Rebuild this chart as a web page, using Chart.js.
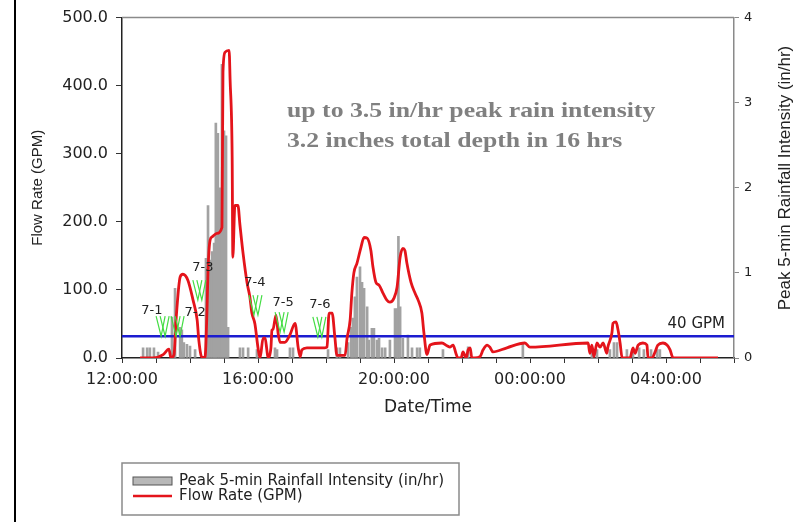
<!DOCTYPE html>
<html>
<head>
<meta charset="utf-8">
<script src="https://cdn.jsdelivr.net/npm/chart.js@4/dist/chart.umd.min.js"></script>
<style>
  body { margin: 0; background: #fff; }
  canvas { display: block; }
</style>
</head>
<body>
<canvas id="flow" width="803" height="522"></canvas>
<script>
// hours after 12:00 on the storm day
let rainHours = [
  0.62, 0.74, 0.82, 0.94, 1.06, 1.47, 1.56, 1.71, 1.76, 1.82, 1.91, 2.0, 2.15,
  2.47, 2.53, 2.59, 2.65, 2.71, 2.76, 2.82, 2.88, 2.94, 3.0, 3.06, 3.12,
  3.47, 3.56, 3.71, 3.97, 4.5, 4.56, 4.94, 5.03, 6.06,
  6.32, 6.41, 6.65, 6.74, 6.79, 6.85, 6.91, 7.0, 7.06, 7.12, 7.21, 7.26, 7.35,
  7.41, 7.5, 7.56, 7.65, 7.74, 7.88, 8.03, 8.09, 8.13, 8.18, 8.26, 8.41, 8.53,
  8.68, 8.76, 9.44, 10.18, 11.79, 13.82, 13.97, 14.35, 14.47, 14.56, 14.85,
  15.03, 15.21, 15.35, 15.56, 15.74, 15.82,
];
let rainValues = [
  0.12, 0.12, 0.12, 0.12, 0.07, 0.48, 0.82, 0.36, 0.33, 0.18, 0.16, 0.14, 0.1,
  1.17, 1.79, 1.15, 1.25, 1.35, 2.76, 2.64, 2.0, 3.45, 2.67, 2.61, 0.36,
  0.12, 0.12, 0.12, 0.1, 0.12, 0.1, 0.12, 0.12, 0.1,
  0.12, 0.12, 0.18, 0.36, 0.47, 0.72, 0.95, 1.07, 0.89, 0.82, 0.6, 0.21, 0.35,
  0.35, 0.21, 0.23, 0.12, 0.12, 0.21, 0.58, 0.58, 1.43, 0.6, 0.23, 0.27, 0.12,
  0.12, 0.12, 0.1, 0.13, 0.18, 0.1, 0.1, 0.1, 0.18, 0.18, 0.1,
  0.1, 0.12, 0.1, 0.1, 0.1, 0.1,
];

let flowHours = [
  0.53, 0.91, 1.21, 1.38, 1.44, 1.53, 1.59, 1.71, 1.79, 1.94, 2.09, 2.21, 2.26,
  2.35, 2.44, 2.5, 2.53, 2.59, 2.65, 2.79, 2.94, 2.97, 3.03, 3.15, 3.18, 3.24,
  3.26, 3.32, 3.41, 3.47, 3.56, 3.68, 3.76, 3.82, 3.91, 4.0, 4.06, 4.15, 4.21,
  4.26, 4.29, 4.38, 4.41, 4.44, 4.53, 4.59, 4.65, 4.79, 4.94, 5.09, 5.18, 5.24,
  5.29, 5.44, 5.97, 6.03, 6.09, 6.18, 6.26, 6.32, 6.56, 6.62, 6.71, 6.76, 6.82,
  6.91, 7.03, 7.12, 7.21, 7.32, 7.38, 7.47, 7.56, 7.68, 7.79, 7.88, 8.0, 8.09,
  8.18, 8.26, 8.32, 8.38, 8.5, 8.62, 8.71, 8.82, 8.88, 8.97, 9.06, 9.41, 9.56,
  9.65, 9.74, 9.82, 9.88, 9.97, 10.03, 10.12, 10.18, 10.24, 10.29, 10.38, 10.53,
  10.62, 10.74, 10.82, 10.91, 11.32, 11.85, 12.0, 13.71, 13.76, 13.82, 13.88,
  13.97, 14.06, 14.15, 14.26, 14.29, 14.41, 14.44, 14.53, 14.59, 14.65, 14.71,
  14.94, 15.03, 15.09, 15.18, 15.32, 15.44, 15.47, 15.59, 15.68, 15.76, 15.91,
  16.03, 16.12, 16.21, 17.53,
];
let flowValues = [
  0, 0, 5, 13, 0, 5, 56, 119, 123, 114, 85, 56, 26,
  1, 1, 70, 129, 173, 178, 183, 192, 420, 449, 452, 408, 295,
  148, 224, 224, 195, 154, 110, 90, 66, 50, 15, 0, 29, 29,
  12, 1, 15, 41, 42, 63, 37, 23, 23, 34, 51, 16, 2,
  12, 15, 15, 16, 66, 66, 31, 4, 4, 29, 56, 95, 125,
  139, 163, 177, 176, 158, 134, 111, 107, 95, 85, 82, 88, 104,
  148, 161, 158, 139, 111, 95, 85, 66, 37, 5, 19, 22, 18,
  16, 19, 7, 0, 0, 9, 0, 12, 15, 0, 0, 2,
  12, 19, 16, 9, 15, 22, 16, 22, 7, 19, 2,
  22, 16, 22, 7, 16, 37, 51, 53, 41, 22, 0,
  0, 15, 7, 19, 22, 19, 0, 0, 9, 19, 22,
  19, 12, 0, 0,
];

let thresholdFlow = 32;
let thresholdLabel = "40 GPM";

let markerNames = ["7-1", "7-2", "7-3", "7-4", "7-5", "7-6"];
let markerHours = [1.18, 1.62, 2.26, 3.91, 4.68, 5.79];
let markerFlows = [32, 32, 85, 63, 38, 31];
let markerTextHours = [0.88, 2.15, 2.38, 3.91, 4.74, 5.82];
let markerTextFlows = [69, 67, 133, 110, 82, 78];

let noteLines = [
  "up to 3.5 in/hr peak rain intensity",
  "3.2 inches total depth in 16 hrs",
];

function hourLabel(v) {
  if (v % 4 !== 0) return "";
  let hh = (12 + v) % 24;
  return (hh < 10 ? "0" : "") + hh + ":00:00";
}

const extras = {
  id: "extras",
  afterDraw(chart) {
    const { ctx, chartArea: a } = chart;
    const x = chart.scales.x;
    const y = chart.scales.y;
    ctx.save();

    // frame line on the left of the slide
    ctx.fillStyle = "#000";
    ctx.fillRect(14, 0, 2, chart.height);

    // top border of plot
    ctx.strokeStyle = "#8a8a8a";
    ctx.lineWidth = 1.5;
    ctx.beginPath();
    ctx.moveTo(a.left, a.top);
    ctx.lineTo(a.right, a.top);
    ctx.stroke();

    // threshold label
    ctx.fillStyle = "#222";
    ctx.font = "15px 'DejaVu Sans'";
    ctx.textAlign = "right";
    ctx.textBaseline = "alphabetic";
    ctx.fillText(thresholdLabel, a.right - 9, y.getPixelForValue(thresholdFlow) - 8);

    // sampling markers
    for (let i = 0; i < markerNames.length; i++) {
      let tx = x.getPixelForValue(markerHours[i]);
      let ty = y.getPixelForValue(markerFlows[i]);
      ctx.strokeStyle = "#44dd44";
      ctx.lineWidth = 1.2;
      for (let k = 0; k < 2; k++) {
        let o = k * 4;
        ctx.beginPath();
        ctx.moveTo(tx - 6 + o, ty - 20);
        ctx.lineTo(tx - 1 + o, ty);
        ctx.lineTo(tx + 3 + o, ty - 20);
        ctx.stroke();
      }
      ctx.fillStyle = "#222";
      ctx.font = "13px 'DejaVu Sans'";
      ctx.textAlign = "center";
      ctx.textBaseline = "middle";
      ctx.fillText(
        markerNames[i],
        x.getPixelForValue(markerTextHours[i]),
        y.getPixelForValue(markerTextFlows[i])
      );
    }

    // note text
    ctx.fillStyle = "#808080";
    ctx.font = "bold 22px 'Liberation Serif'";
    ctx.textAlign = "left";
    ctx.textBaseline = "alphabetic";
    noteLines.forEach((t, i) => {
      ctx.save();
      ctx.translate(a.left + 165, a.top + 99 + i * 30);
      ctx.scale(1.17, 1);
      ctx.fillText(t, 0, 0);
      ctx.restore();
    });

    // right axis title (reads bottom to top)
    ctx.save();
    ctx.translate(785, 178);
    ctx.rotate(-Math.PI / 2);
    ctx.fillStyle = "#222";
    ctx.font = "17px 'Liberation Sans'";
    ctx.textAlign = "center";
    ctx.textBaseline = "middle";
    ctx.fillText("Peak 5-min Rainfall Intensity (in/hr)", 0, 0);
    ctx.restore();

    // legend box
    const ds = chart.data.datasets;
    ctx.strokeStyle = "#8a8a8a";
    ctx.lineWidth = 1.5;
    ctx.strokeRect(122, 463, 337, 52);
    ctx.fillStyle = "#b8b8b8";
    ctx.fillRect(133, 477, 39, 8);
    ctx.strokeStyle = "#555";
    ctx.lineWidth = 1;
    ctx.strokeRect(133, 477, 39, 8);
    ctx.strokeStyle = ds[0].borderColor;
    ctx.lineWidth = 2.5;
    ctx.beginPath();
    ctx.moveTo(133, 496);
    ctx.lineTo(172, 496);
    ctx.stroke();
    ctx.fillStyle = "#222";
    ctx.font = "15px 'DejaVu Sans'";
    ctx.textAlign = "left";
    ctx.textBaseline = "middle";
    ctx.fillText(ds[2].label, 179, 481);
    ctx.fillText(ds[0].label, 179, 496);

    ctx.restore();
  },
};

new Chart("flow", {
  type: "bar",
  data: {
    datasets: [
      {
        type: "line",
        label: "Flow Rate (GPM)",
        data: flowHours.map((h, i) => ({ x: h, y: flowValues[i] })),
        borderColor: "#e4141b",
        borderWidth: 2.8,
        pointRadius: 0,
        cubicInterpolationMode: "monotone",
        yAxisID: "y",
        order: 1,
      },
      {
        type: "line",
        label: thresholdLabel,
        data: [{ x: 0, y: thresholdFlow }, { x: 18, y: thresholdFlow }],
        borderColor: "#1c1cd0",
        borderWidth: 2.5,
        pointRadius: 0,
        yAxisID: "y",
        order: 2,
      },
      {
        type: "bar",
        label: "Peak 5-min Rainfall Intensity (in/hr)",
        data: rainHours.map((h, i) => ({ x: h, y: rainValues[i] })),
        backgroundColor: "#a2a2a2",
        barThickness: 2,
        yAxisID: "y1",
        order: 3,
      },
    ],
  },
  options: {
    responsive: false,
    animation: false,
    layout: { padding: { top: 17, left: 0, right: 0, bottom: 0 } },
    plugins: {
      legend: { display: false },
      tooltip: { enabled: false },
    },
    scales: {
      x: {
        type: "linear",
        min: 0,
        max: 18,
        offset: false,
        grid: { drawOnChartArea: false, offset: false, tickLength: 5, color: "#333" },
        border: { color: "#222", width: 1.5 },
        ticks: {
          stepSize: 1,
          autoSkip: false,
          maxRotation: 0,
          padding: 7,
          color: "#222",
          font: { family: "DejaVu Sans", size: 16 },
          callback: hourLabel,
        },
        title: {
          display: true,
          text: "Date/Time",
          color: "#222",
          font: { family: "DejaVu Sans", size: 17 },
          padding: { top: 0, bottom: 104 },
        },
        afterFit: (s) => { s.height = 164; },
      },
      y: {
        position: "left",
        min: 0,
        max: 500,
        grid: { drawOnChartArea: false, tickLength: 6, color: "#333" },
        border: { color: "#222", width: 1.5 },
        ticks: {
          stepSize: 100,
          padding: 8,
          color: "#222",
          font: { family: "DejaVu Sans", size: 16 },
          callback: (v) => v.toFixed(1),
        },
        title: {
          display: true,
          text: "Flow Rate (GPM)",
          color: "#222",
          font: { family: "Liberation Sans", size: 15 },
          padding: { top: 29, bottom: 0 },
        },
        afterFit: (s) => { s.width = 122; },
      },
      y1: {
        position: "right",
        min: 0,
        max: 4,
        grid: { drawOnChartArea: false, tickLength: 5, color: "#8a8a8a" },
        border: { color: "#8a8a8a", width: 1.5 },
        ticks: {
          stepSize: 1,
          padding: 5,
          color: "#222",
          font: { family: "DejaVu Sans", size: 13 },
        },
        afterFit: (s) => { s.width = 69; },
      },
    },
  },
  plugins: [extras],
});
</script>
</body>
</html>
